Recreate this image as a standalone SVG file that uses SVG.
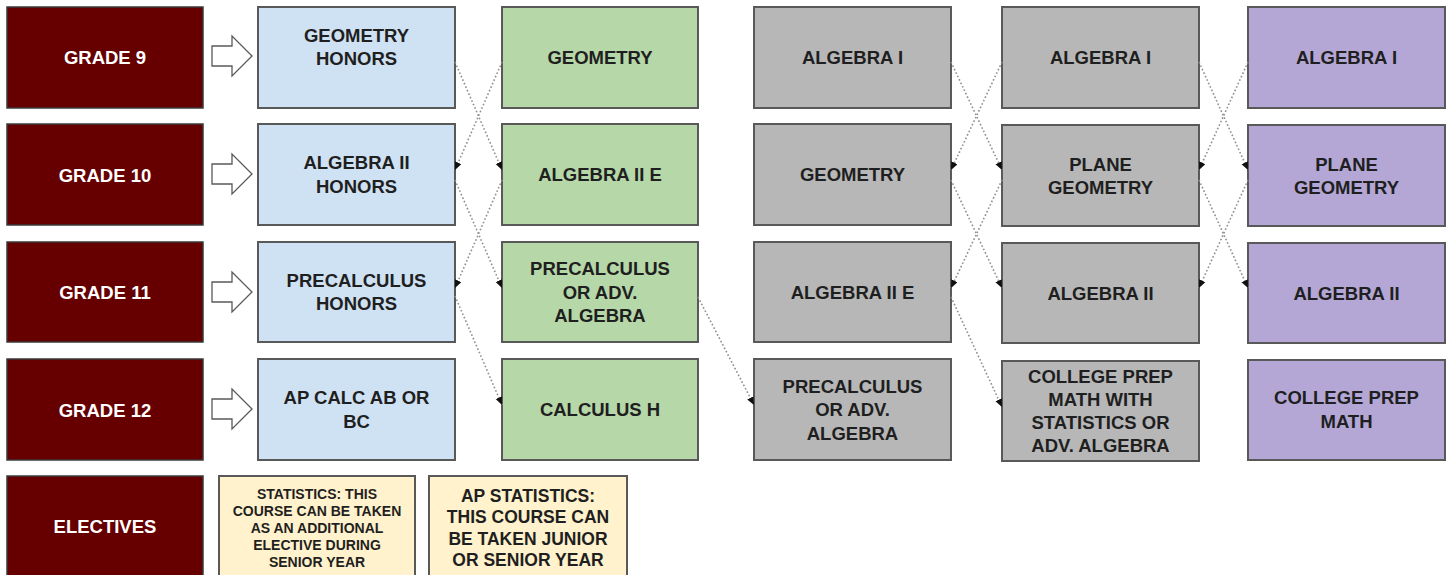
<svg xmlns="http://www.w3.org/2000/svg" width="1450" height="575" viewBox="0 0 1450 575">
<defs>
<style>
.grade rect{fill:#660000;stroke:#3a3a3a;stroke-width:1.5}
.grade text{fill:#ffffff}
text{font-family:"Liberation Sans",Arial,sans-serif;font-weight:bold;font-size:18.5px;text-anchor:middle;fill:#1f1f1f}
.box rect{stroke:#595959;stroke-width:2}
.blue rect{fill:#cfe2f3}
.green rect{fill:#b6d7a8}
.gray rect{fill:#b7b7b7}
.purple rect{fill:#b4a7d6}
.yellow rect{fill:#fff2cc}
.small{font-size:14px}
.mid{font-size:17.5px}
.blk{fill:#ffffff;stroke:#595959;stroke-width:1.3;stroke-linejoin:miter}
#connectors line{stroke:#8f8f8f;stroke-width:1.6;stroke-dasharray:1.6 2.2;fill:none}
</style>
<marker id="ah" markerUnits="userSpaceOnUse" markerWidth="9" markerHeight="8" refX="8" refY="3.5" orient="auto">
<path d="M0,0 L8,3.5 L0,7 z" fill="#111"/>
</marker>
<polygon id="blockarrow" points="0,-10 20,-10 20,-20 40,0 20,20 20,10 0,10"/>
</defs>
<rect width="1450" height="575" fill="#ffffff"/>

<g id="grade9" class="grade"><rect x="7" y="7" width="196" height="101"/><text x="105" y="64">GRADE 9</text></g>
<g id="grade10" class="grade"><rect x="7" y="124" width="196" height="101"/><text x="105" y="182">GRADE 10</text></g>
<g id="grade11" class="grade"><rect x="7" y="242" width="196" height="100"/><text x="105" y="299">GRADE 11</text></g>
<g id="grade12" class="grade"><rect x="7" y="359" width="196" height="101"/><text x="105" y="417">GRADE 12</text></g>
<g id="electives" class="grade"><rect x="7" y="476" width="196" height="104"/><text x="105" y="533">ELECTIVES</text></g>

<g id="arrows">
<use href="#blockarrow" class="blk" x="212" y="56"/>
<use href="#blockarrow" class="blk" x="212" y="174"/>
<use href="#blockarrow" class="blk" x="212" y="292"/>
<use href="#blockarrow" class="blk" x="212" y="409"/>
</g>

<g id="geometry-honors" class="box blue"><rect x="258" y="7" width="197" height="101"/><text x="356.5" y="41.5">GEOMETRY</text><text x="356.5" y="64.5">HONORS</text></g>
<g id="algebra2-honors" class="box blue"><rect x="258" y="124" width="197" height="101"/><text x="356.5" y="168.5">ALGEBRA II</text><text x="356.5" y="192.5">HONORS</text></g>
<g id="precalc-honors" class="box blue"><rect x="258" y="242" width="197" height="100"/><text x="356.5" y="286.5">PRECALCULUS</text><text x="356.5" y="309.5">HONORS</text></g>
<g id="ap-calc" class="box blue"><rect x="258" y="359" width="197" height="101"/><text x="356.5" y="403.5">AP CALC AB OR</text><text x="356.5" y="427.5">BC</text></g>

<g id="geometry-g" class="box green"><rect x="502" y="7" width="196" height="101"/><text x="600" y="63.5">GEOMETRY</text></g>
<g id="algebra2e-g" class="box green"><rect x="502" y="124" width="196" height="101"/><text x="600" y="180.5">ALGEBRA II E</text></g>
<g id="precalc-g" class="box green"><rect x="502" y="242" width="196" height="100"/><text x="600" y="274.5">PRECALCULUS</text><text x="600" y="298.5">OR ADV.</text><text x="600" y="321.5">ALGEBRA</text></g>
<g id="calculus-h" class="box green"><rect x="502" y="359" width="196" height="101"/><text x="600" y="415.5">CALCULUS H</text></g>

<g id="algebra1-a" class="box gray"><rect x="754" y="7" width="197" height="101"/><text x="852.5" y="63.5">ALGEBRA I</text></g>
<g id="geometry-a" class="box gray"><rect x="754" y="124" width="197" height="101"/><text x="852.5" y="180.5">GEOMETRY</text></g>
<g id="algebra2e-a" class="box gray"><rect x="754" y="242" width="197" height="100"/><text x="852.5" y="298.5">ALGEBRA II E</text></g>
<g id="precalc-a" class="box gray"><rect x="754" y="359" width="197" height="101"/><text x="852.5" y="392.5">PRECALCULUS</text><text x="852.5" y="415.5">OR ADV.</text><text x="852.5" y="439.5">ALGEBRA</text></g>

<g id="algebra1-b" class="box gray"><rect x="1002" y="7" width="197" height="101"/><text x="1100.5" y="63.5">ALGEBRA I</text></g>
<g id="plane-geometry-b" class="box gray"><rect x="1002" y="125" width="197" height="101"/><text x="1100.5" y="170.5">PLANE</text><text x="1100.5" y="193.5">GEOMETRY</text></g>
<g id="algebra2-b" class="box gray"><rect x="1002" y="243" width="197" height="100"/><text x="1100.5" y="299.5">ALGEBRA II</text></g>
<g id="college-prep-b" class="box gray"><rect x="1002" y="361" width="197" height="100"/><text x="1100.5" y="382.5">COLLEGE PREP</text><text x="1100.5" y="405.5">MATH WITH</text><text x="1100.5" y="428.5">STATISTICS OR</text><text x="1100.5" y="451.5">ADV. ALGEBRA</text></g>

<g id="algebra1-c" class="box purple"><rect x="1248" y="7" width="197" height="101"/><text x="1346.5" y="63.5">ALGEBRA I</text></g>
<g id="plane-geometry-c" class="box purple"><rect x="1248" y="125" width="197" height="101"/><text x="1346.5" y="170.5">PLANE</text><text x="1346.5" y="193.5">GEOMETRY</text></g>
<g id="algebra2-c" class="box purple"><rect x="1248" y="243" width="197" height="100"/><text x="1346.5" y="299.5">ALGEBRA II</text></g>
<g id="college-prep-c" class="box purple"><rect x="1248" y="360" width="197" height="100"/><text x="1346.5" y="403.5">COLLEGE PREP</text><text x="1346.5" y="427.5">MATH</text></g>

<g id="statistics" class="box yellow"><rect x="219" y="476" width="196" height="104"/>
<text class="small" x="317" y="499">STATISTICS: THIS</text><text class="small" x="317" y="516">COURSE CAN BE TAKEN</text><text class="small" x="317" y="533">AS AN ADDITIONAL</text><text class="small" x="317" y="550">ELECTIVE DURING</text><text class="small" x="317" y="567">SENIOR YEAR</text></g>
<g id="ap-statistics" class="box yellow"><rect x="429" y="476" width="198" height="104"/>
<text class="mid" x="528" y="501.5">AP STATISTICS:</text><text class="mid" x="528" y="523">THIS COURSE CAN</text><text class="mid" x="528" y="544.5">BE TAKEN JUNIOR</text><text class="mid" x="528" y="566">OR SENIOR YEAR</text></g>

<g id="connectors">
<line x1="455" y1="62" x2="502" y2="170" marker-end="url(#ah)"/>
<line x1="502" y1="62" x2="455" y2="170" marker-end="url(#ah)"/>
<line x1="455" y1="180" x2="502" y2="288" marker-end="url(#ah)"/>
<line x1="502" y1="180" x2="455" y2="288" marker-end="url(#ah)"/>
<line x1="455" y1="296" x2="502" y2="405" marker-end="url(#ah)"/>
<line x1="698" y1="297" x2="754" y2="405" marker-end="url(#ah)"/>
<line x1="951" y1="62" x2="1002" y2="170" marker-end="url(#ah)"/>
<line x1="1002" y1="62" x2="951" y2="170" marker-end="url(#ah)"/>
<line x1="951" y1="180" x2="1002" y2="288" marker-end="url(#ah)"/>
<line x1="1002" y1="180" x2="951" y2="288" marker-end="url(#ah)"/>
<line x1="951" y1="297" x2="1002" y2="407" marker-end="url(#ah)"/>
<line x1="1199" y1="62" x2="1248" y2="170" marker-end="url(#ah)"/>
<line x1="1248" y1="62" x2="1199" y2="170" marker-end="url(#ah)"/>
<line x1="1199" y1="180" x2="1248" y2="288" marker-end="url(#ah)"/>
<line x1="1248" y1="180" x2="1199" y2="288" marker-end="url(#ah)"/>
</g>
</svg>
